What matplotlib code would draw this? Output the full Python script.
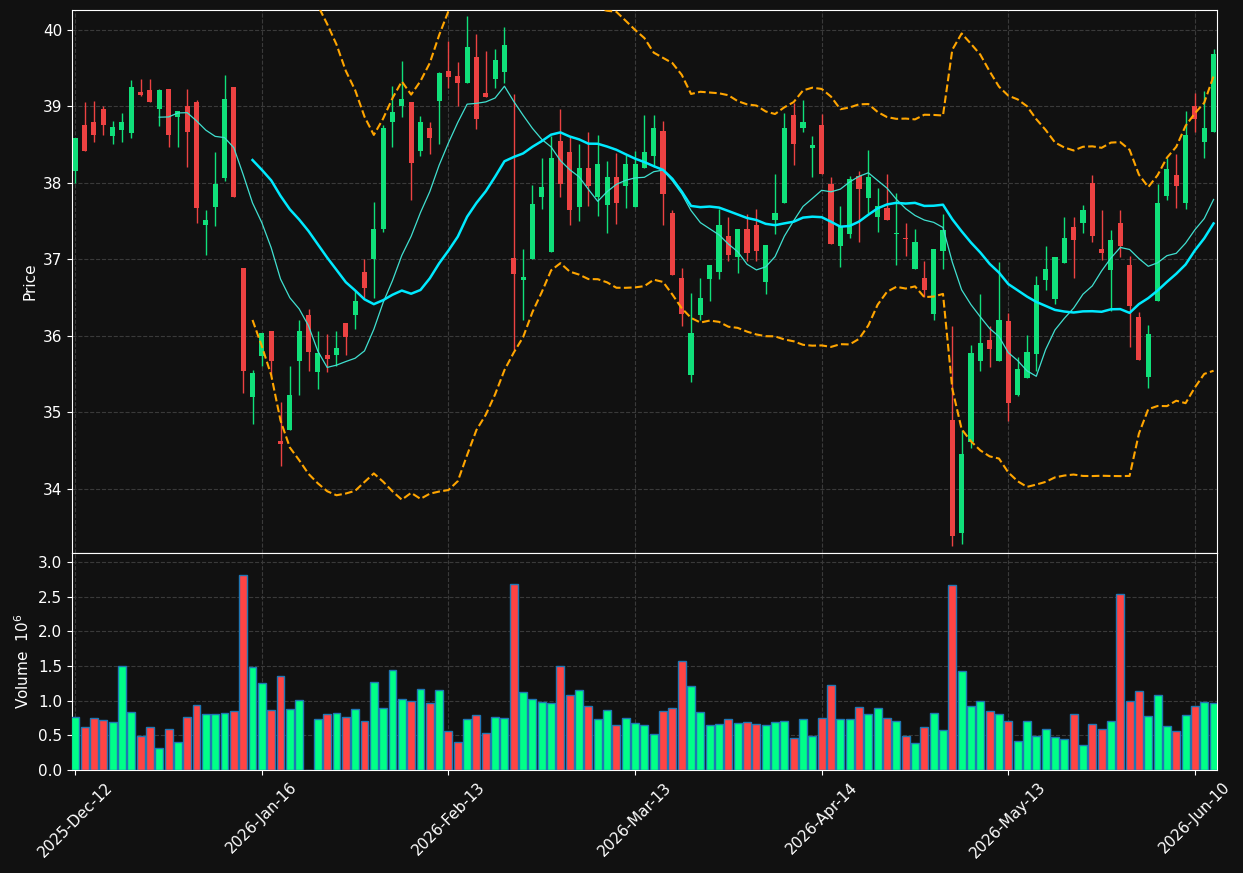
import numpy as np
import pandas as pd
import matplotlib
matplotlib.use("Agg")
import matplotlib.pyplot as plt

opens = [38.15, 38.76, 38.80, 38.96, 38.61, 38.69, 38.65, 39.19, 39.21, 38.97,
         39.23, 38.86, 39.00, 39.05, 37.45, 37.68, 38.06, 39.25, 36.89, 35.20,
         35.74, 36.06, 34.62, 34.77, 35.67, 36.27, 35.53, 35.75, 35.75, 36.17,
         36.27, 36.83, 37.00, 37.39, 38.79, 39.00, 39.06, 38.42, 38.71, 39.07,
         39.46, 39.39, 39.30, 39.65, 39.18, 39.36, 39.45, 37.02, 36.73, 37.01,
         37.82, 37.09, 38.54, 38.40, 37.69, 38.19, 37.82, 37.71, 38.08, 37.96,
         37.68, 38.20, 38.35, 38.68, 37.60, 36.75, 35.49, 36.27, 36.74, 36.83,
         37.30, 37.03, 37.40, 37.45, 36.70, 37.51, 37.73, 38.89, 38.71, 38.45,
         38.76, 37.99, 37.18, 37.33, 38.09, 37.80, 37.55, 37.67, 37.33, 37.27,
         36.87, 36.76, 36.29, 37.11, 34.90, 33.42, 34.61, 35.67, 35.95, 35.67,
         36.19, 35.23, 35.45, 35.76, 36.73, 36.48, 36.95, 37.42, 37.47, 38.00,
         37.13, 36.86, 37.48, 36.92, 36.24, 35.46, 36.45, 37.83, 38.10, 37.74,
         39.01, 38.53, 38.66]
highs = [38.59, 39.05, 39.07, 39.00, 38.81, 38.91, 39.35, 39.36, 39.36, 39.22,
         39.23, 38.94, 39.23, 39.08, 37.64, 38.40, 39.41, 39.25, 36.89, 35.55,
         36.03, 36.06, 35.14, 35.60, 36.21, 36.35, 36.06, 36.02, 36.06, 36.17,
         36.58, 37.01, 37.75, 38.76, 39.26, 39.59, 39.06, 38.87, 38.80, 39.45,
         39.86, 39.58, 40.18, 39.94, 39.72, 39.75, 40.04, 39.16, 37.14, 37.97,
         38.32, 38.61, 38.96, 38.60, 38.51, 38.66, 38.62, 38.28, 38.39, 38.36,
         38.42, 38.88, 38.89, 38.81, 37.64, 36.89, 36.56, 36.75, 36.93, 37.66,
         37.55, 37.40, 37.59, 37.66, 37.19, 38.12, 38.91, 39.04, 39.08, 38.61,
         38.90, 38.07, 37.70, 38.09, 38.16, 38.43, 37.93, 38.12, 37.87, 37.48,
         37.39, 36.98, 37.13, 37.59, 36.13, 34.77, 35.88, 36.54, 36.13, 36.97,
         36.30, 35.72, 36.01, 36.78, 37.18, 37.03, 37.55, 37.55, 37.71, 38.10,
         37.65, 37.38, 37.65, 37.04, 36.31, 36.14, 37.98, 38.32, 38.37, 38.94,
         39.17, 39.20, 39.75]
lows = [38.00, 38.42, 38.53, 38.62, 38.51, 38.53, 38.59, 39.13, 39.05, 38.74,
        38.47, 38.47, 38.21, 37.48, 37.05, 37.44, 38.03, 37.82, 35.25, 34.84,
        35.61, 35.49, 34.30, 34.77, 35.23, 35.54, 35.31, 35.52, 35.61, 35.75,
        36.09, 36.50, 36.50, 37.36, 38.47, 38.86, 37.77, 38.35, 38.38, 38.51,
        39.24, 39.00, 39.30, 38.70, 39.12, 39.24, 39.31, 35.81, 36.21, 37.01,
        37.66, 37.09, 37.82, 37.45, 37.50, 37.70, 37.57, 37.35, 37.46, 37.67,
        37.68, 38.20, 38.21, 37.45, 36.79, 36.13, 35.40, 36.21, 36.46, 36.74,
        36.98, 36.82, 36.98, 36.98, 36.55, 37.33, 37.73, 38.23, 38.67, 38.07,
        38.12, 37.20, 36.90, 37.28, 37.23, 37.61, 37.36, 37.51, 36.93, 37.04,
        36.87, 36.51, 36.21, 36.87, 33.25, 33.28, 34.53, 35.54, 35.59, 35.67,
        34.88, 35.21, 35.45, 35.54, 36.60, 36.42, 36.95, 36.76, 37.35, 37.23,
        36.99, 36.33, 37.03, 35.85, 35.68, 35.32, 36.45, 37.78, 37.67, 37.66,
        38.67, 38.33, 38.66]
closes = [38.59, 38.42, 38.63, 38.75, 38.73, 38.80, 39.25, 39.15, 39.05, 39.21,
          38.62, 38.94, 38.67, 37.67, 37.52, 37.99, 39.09, 37.82, 35.54, 35.51,
          36.03, 35.67, 34.58, 35.22, 36.06, 35.79, 35.77, 35.69, 35.84, 35.98,
          36.46, 36.63, 37.40, 38.72, 38.93, 39.09, 38.26, 38.80, 38.58, 39.43,
          39.38, 39.31, 39.78, 38.83, 39.12, 39.60, 39.80, 36.81, 36.77, 37.72,
          37.94, 38.32, 37.99, 37.64, 38.19, 37.96, 38.24, 38.07, 37.73, 38.25,
          38.25, 38.40, 38.72, 37.85, 36.79, 36.28, 36.03, 36.49, 36.93, 37.45,
          37.05, 37.40, 37.08, 37.11, 37.19, 37.61, 38.71, 38.51, 38.80, 38.49,
          38.12, 37.20, 37.43, 38.05, 37.92, 38.08, 37.70, 37.51, 37.35, 37.26,
          37.23, 36.60, 37.13, 37.38, 33.38, 34.46, 35.77, 35.91, 35.83, 36.21,
          35.12, 35.57, 35.79, 36.66, 36.87, 37.03, 37.28, 37.25, 37.65, 37.30,
          37.08, 37.25, 37.18, 36.39, 35.68, 36.02, 37.74, 38.18, 37.96, 38.63,
          38.83, 38.71, 39.68]
volume_m = [0.768, 0.625, 0.753, 0.725, 0.690, 1.497, 0.839, 0.496, 0.625, 0.310,
            0.596, 0.410, 0.768, 0.939, 0.810, 0.810, 0.825, 0.853, 2.810, 1.483,
            1.254, 0.868, 1.354, 0.882, 1.011, 0.000, 0.739, 0.810, 0.825, 0.768,
            0.882, 0.710, 1.268, 0.896, 1.440, 1.025, 0.997, 1.168, 0.968, 1.154,
            0.567, 0.410, 0.739, 0.796, 0.539, 0.768, 0.753, 2.685, 1.125, 1.025,
            0.982, 0.968, 1.497, 1.082, 1.154, 0.925, 0.739, 0.868, 0.653, 0.753,
            0.682, 0.653, 0.525, 0.853, 0.896, 1.569, 1.211, 0.839, 0.653, 0.668,
            0.739, 0.682, 0.696, 0.668, 0.653, 0.696, 0.710, 0.467, 0.739, 0.496,
            0.753, 1.226, 0.739, 0.739, 0.911, 0.810, 0.896, 0.753, 0.710, 0.496,
            0.396, 0.625, 0.825, 0.582, 2.670, 1.426, 0.925, 0.997, 0.853, 0.810,
            0.710, 0.424, 0.710, 0.496, 0.596, 0.482, 0.453, 0.810, 0.367, 0.668,
            0.596, 0.710, 2.542, 0.997, 1.140, 0.782, 1.082, 0.639, 0.567, 0.796,
            0.925, 0.982, 0.968]
tick_idx = [0, 20, 40, 60, 80, 100, 120]
tick_labels = ['2025-Dec-12', '2026-Jan-16', '2026-Feb-13', '2026-Mar-13',
               '2026-Apr-14', '2026-May-13', '2026-Jun-10']

bg = '#111111'
up_c, down_c = '#10e07a', '#ec4242'
vup_c, vdown_c = '#00ff88', '#ff4444'

df = pd.DataFrame({'o': opens, 'h': highs, 'l': lows, 'c': closes, 'v': volume_m})
x = np.arange(len(df))
ma10 = df['c'].rolling(10).mean()
ma20 = df['c'].rolling(20).mean()
sd20 = df['c'].rolling(20).std(ddof=0)

fig = plt.figure(figsize=(12.43, 8.73), dpi=100, facecolor=bg)
ax = fig.add_axes([0.0579, 0.3666, 0.9212, 0.622])
axv = fig.add_axes([0.0579, 0.118, 0.9212, 0.2486], sharex=ax)

up = df['c'] >= df['o']
cols = np.where(up, up_c, down_c)
ax.vlines(x, df['l'], df['h'], colors=cols, lw=1, zorder=3)
body_lo = np.minimum(df['o'], df['c'])
body_h = np.maximum(np.abs(df['c'] - df['o']), 0.02)
ax.bar(x, body_h, bottom=body_lo, width=0.55, color=cols, lw=0, zorder=4)

# moving averages + bollinger bands
ax.plot(x, ma10, color='#40e0d0', lw=0.9, zorder=5)
ax.plot(x, ma20, color='#00eaff', lw=1.8, zorder=5)
ax.plot(x, ma20 + 2 * sd20, color='#ffa500', lw=1.5, ls='--', zorder=5)
ax.plot(x, ma20 - 2 * sd20, color='#ffa500', lw=1.5, ls='--', zorder=5)

vcols = np.where(up, vup_c, vdown_c)
axv.bar(x, df['v'], width=0.85, color=vcols, edgecolor='#1f77b4', lw=1, zorder=3)

for a in (ax, axv):
    a.set_facecolor(bg)
    a.grid(True, ls='--', color='#3a3a3a', lw=0.8)
    a.set_axisbelow(True)
    for s in a.spines.values():
        s.set_color('white')
    a.tick_params(colors='white', labelsize=11)

ax.set_xlim(-0.35, 122.37)
ax.set_ylim(33.16, 40.26)
ax.set_yticks([34, 35, 36, 37, 38, 39, 40])
ax.set_ylabel('Price', color='white', fontsize=11)
ax.tick_params(axis='x', labelbottom=False)

axv.set_ylim(0, 3.13)
axv.set_yticks([0, 0.5, 1.0, 1.5, 2.0, 2.5, 3.0])
axv.set_yticklabels(['0.0', '0.5', '1.0', '1.5', '2.0', '2.5', '3.0'])
axv.set_ylabel('Volume  $10^6$', color='white', fontsize=11)
axv.set_xticks(tick_idx)
axv.set_xticklabels(tick_labels, rotation=45, ha='center')

fig.savefig('out.png', facecolor=bg)
